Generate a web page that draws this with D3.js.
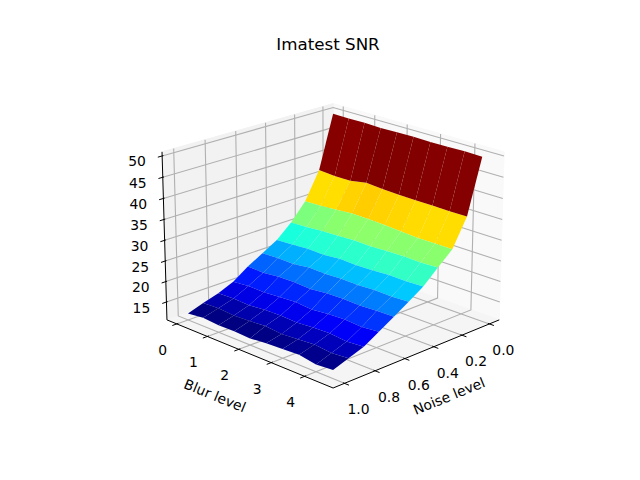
<!DOCTYPE html>
<html>
<head>
<meta charset="utf-8">
<script src="https://cdn.jsdelivr.net/npm/d3@7"></script>
<style>
  body { margin: 0; background: #fff; }
  text { font-family: "DejaVu Sans", sans-serif; fill: #000; }
</style>
</head>
<body>
<svg id="chart" width="640" height="480"></svg>
<script>
// data: rows follow noiseLevels, columns follow blurLevels
const noiseLevels = [0, 0.1, 0.2, 0.3, 0.4, 0.5, 0.6, 0.7, 0.8, 0.9, 1.0];
const blurLevels = [0, 0.5, 1, 1.5, 2, 2.5, 3, 3.5, 4, 4.5];
const snr = [
  [49.9, 49.8, 49.9, 49.7, 49.8, 49.9, 49.8, 49.8, 49.9, 49.8],
  [36.9, 36.6, 36.7, 37.4, 37.1, 37.0, 36.9, 36.9, 36.8, 36.9],
  [30.2, 30.3, 30.6, 31.0, 30.9, 30.8, 30.5, 30.3, 30.3, 30.3],
  [26.0, 26.2, 26.5, 26.7, 26.9, 26.8, 27.0, 27.1, 27.0, 27.2],
  [22.8, 23.0, 23.3, 23.2, 23.6, 23.5, 23.6, 23.9, 23.8, 24.0],
  [20.7, 20.9, 20.8, 21.3, 21.2, 21.4, 21.3, 21.6, 21.5, 21.7],
  [18.6, 18.5, 18.9, 19.0, 18.8, 19.2, 19.3, 19.2, 19.4, 19.5],
  [16.1, 16.5, 16.4, 16.7, 16.9, 16.6, 17.0, 17.2, 16.9, 17.3],
  [14.5, 14.7, 14.5, 14.9, 15.0, 14.8, 15.1, 15.3, 14.9, 15.2],
  [13.4, 13.6, 13.3, 13.5, 13.8, 13.4, 13.7, 14.0, 13.6, 13.9],
  [12.2, 12.6, 12.3, 12.4, 12.2, 12.6, 12.8, 13.0, 12.3, 12.6]
];
const noiseTicks = [0, 0.2, 0.4, 0.6, 0.8, 1.0];
const blurTicks = [0, 1, 2, 3, 4];
const snrTicks = [15, 20, 25, 30, 35, 40, 45, 50];

// axis box limits (data units)
const noiseLim = [-0.0729, 1.0729];
const blurLim = [-0.3281, 4.8281];
const snrLim = [10.59, 50.96];

const svg = d3.select("#chart");
svg.append("rect").attr("width", 640).attr("height", 480).attr("fill", "#fff");

// 3d view, matplotlib-like: elev 20, azim 45, perspective dist 10
const elev = 20 * Math.PI / 180, azim = 45 * Math.PI / 180, dist = 10;
const box = [4 / 3.5, 4 / 3.5, 3 / 3.5];
const cx = 333.1, cy = 237.1, k = 2086;

const wx = d3.scaleLinear().domain(noiseLim).range([0, box[0]]);
const wy = d3.scaleLinear().domain(blurLim).range([0, box[1]]);
const wz = d3.scaleLinear().domain(snrLim).range([0, box[2]]);

const W = [Math.cos(elev) * Math.cos(azim), Math.cos(elev) * Math.sin(azim), Math.sin(elev)];
const U = [-Math.sin(azim), Math.cos(azim), 0];
const V = [-Math.sin(elev) * Math.cos(azim), -Math.sin(elev) * Math.sin(azim), Math.cos(elev)];
const dot = (a, b) => a[0] * b[0] + a[1] * b[1] + a[2] * b[2];

function project(n, b, z) {
  const p = [wx(n) - box[0] / 2, wy(b) - box[1] / 2, wz(z) - box[2] / 2];
  const d = dist - dot(W, p);
  return [cx + k * dot(U, p) / d, cy - k * dot(V, p) / d, d];
}
const line = pts => "M" + pts.map(p => project(...p).slice(0, 2).map(v => v.toFixed(2)).join(",")).join("L");

const [n0, n1] = noiseLim, [b0, b1] = blurLim, [z0, z1] = snrLim;

// panes
const panes = [
  {pts: [[n0, b0, z0], [n0, b1, z0], [n0, b1, z1], [n0, b0, z1]], fill: "#f9f9f9"},
  {pts: [[n0, b0, z0], [n1, b0, z0], [n1, b0, z1], [n0, b0, z1]], fill: "#f2f2f2"},
  {pts: [[n0, b0, z0], [n1, b0, z0], [n1, b1, z0], [n0, b1, z0]], fill: "#f5f5f5"}
];
svg.append("g").selectAll("path").data(panes).join("path")
  .attr("d", d => line(d.pts) + "Z")
  .attr("fill", d => d.fill)
  .attr("stroke", d => d.fill)
  .attr("stroke-width", 1);

// grid
const grid = svg.append("g").attr("fill", "none").attr("stroke", "#b0b0b0").attr("stroke-width", 1.1);
noiseTicks.forEach(t => grid.append("path").attr("d", line([[t, b1, z0], [t, b0, z0], [t, b0, z1]])));
blurTicks.forEach(t => grid.append("path").attr("d", line([[n1, t, z0], [n0, t, z0], [n0, t, z1]])));
snrTicks.forEach(t => grid.append("path").attr("d", line([[n1, b0, t], [n0, b0, t], [n0, b1, t]])));

// axis lines and ticks
const ax = svg.append("g").attr("fill", "none").attr("stroke", "#000").attr("stroke-width", 1);
ax.append("path").attr("d", line([[n1, b0, z0], [n1, b1, z0]]));
ax.append("path").attr("d", line([[n0, b1, z0], [n1, b1, z0]]));
ax.append("path").attr("d", line([[n1, b0, z0], [n1, b0, z1]]));

const dn = (n1 - n0) / 12, db = (b1 - b0) / 12;
blurTicks.forEach(t => ax.append("path").attr("d", line([[n1 - 0.1 * dn, t, z0], [n1 + 0.3 * dn, t, z0]])));
noiseTicks.forEach(t => ax.append("path").attr("d", line([[t, b1 - 0.1 * db, z0], [t, b1 + 0.3 * db, z0]])));
snrTicks.forEach(t => ax.append("path").attr("d", line([[n1 - 0.08 * dn, b0, t], [n1 + 0.28 * dn, b0, t]])));

// tick labels
const labels = svg.append("g").attr("font-size", "13.9px").attr("text-anchor", "middle").attr("dominant-baseline", "central");
blurTicks.forEach(t => {
  const [x, y] = project(n1, t, z0);
  labels.append("text").attr("x", x - 14).attr("y", y + 26).text(d3.format("d")(t));
});
noiseTicks.forEach(t => {
  const [x, y] = project(t, b1, z0);
  labels.append("text").attr("x", x + 14).attr("y", y + 26).text(d3.format(".1f")(t));
});
snrTicks.forEach(t => {
  const [x, y] = project(n1, b0, t);
  labels.append("text").attr("x", x - 25).attr("y", y + 5.5).text(d3.format("d")(t));
});

// axis titles
const ang = pts => {
  const a = project(...pts[0]), b = project(...pts[1]);
  return Math.atan2(b[1] - a[1], b[0] - a[0]) * 180 / Math.PI;
};
const blurAng = ang([[n1, b0, z0], [n1, b1, z0]]);
const noiseAng = ang([[n1, b1, z0], [n0, b1, z0]]);
svg.append("text").attr("font-size", "13.9px").attr("text-anchor", "middle").attr("dominant-baseline", "central")
  .attr("transform", `translate(215,395.5) rotate(${blurAng})`).text("Blur level");
svg.append("text").attr("font-size", "13.9px").attr("text-anchor", "middle").attr("dominant-baseline", "central")
  .attr("transform", `translate(449,396) rotate(${noiseAng})`).text("Noise level");

// title
svg.append("text").attr("x", 328).attr("y", 44).attr("font-size", "16.7px")
  .attr("text-anchor", "middle").attr("dominant-baseline", "central").text("Imatest SNR");

// jet colormap
const jetR = d3.scaleLinear().domain([0, 0.35, 0.66, 0.89, 1]).range([0, 0, 1, 1, 0.5]).clamp(true);
const jetG = d3.scaleLinear().domain([0, 0.125, 0.375, 0.64, 0.91, 1]).range([0, 0, 1, 1, 0, 0]).clamp(true);
const jetB = d3.scaleLinear().domain([0, 0.11, 0.34, 0.65, 1]).range([0.5, 1, 1, 0, 0]).clamp(true);
const jet = t => d3.rgb(jetR(t) * 255, jetG(t) * 255, jetB(t) * 255).formatHex();

// surface facets
const facets = [];
for (let i = 0; i < noiseLevels.length - 1; i++) {
  for (let j = 0; j < blurLevels.length - 1; j++) {
    const pts = [[i, j], [i + 1, j], [i + 1, j + 1], [i, j + 1]]
      .map(([a, b]) => [noiseLevels[a], blurLevels[b], snr[a][b]]);
    const proj = pts.map(p => project(...p));
    facets.push({
      pts,
      avg: d3.mean(pts, p => p[2]),
      depth: d3.mean(proj, p => p[2])
    });
  }
}
const color = d3.scaleLinear().domain(d3.extent(facets, f => f.avg)).range([0, 1]);
facets.sort((a, b) => b.depth - a.depth);
svg.append("g").selectAll("path").data(facets).join("path")
  .attr("d", d => line(d.pts) + "Z")
  .attr("fill", d => jet(color(d.avg)));
</script>
</body>
</html>
